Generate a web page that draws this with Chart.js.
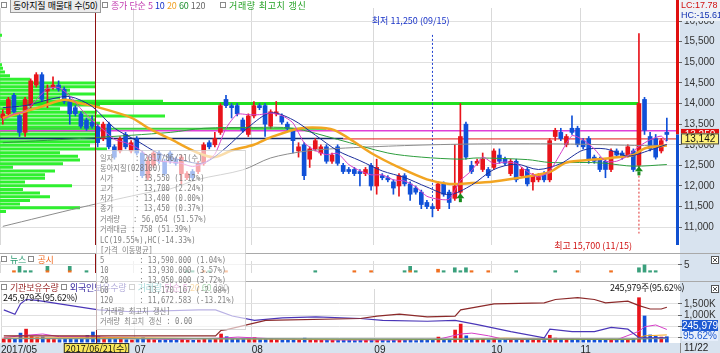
<!DOCTYPE html>
<html lang="ko">
<head>
<meta charset="utf-8">
<title>동아지질 일봉</title>
<script src="https://cdn.jsdelivr.net/npm/chart.js@4.4.1/dist/chart.umd.min.js"></script>
<style>
  html, body { margin: 0; padding: 0; background: #fff; }
  body { width: 720px; height: 353px; position: relative; overflow: hidden; font-family: "Liberation Sans", Arial, sans-serif; }
  canvas { position: absolute; left: 0; }
  .lg { position: absolute; font: 9px "Noto Sans CJK KR", sans-serif; line-height: 12px; white-space: nowrap; letter-spacing: -0.2px; }
  .bx { display: inline-block; width: 4px; height: 4px; border: 1px solid #8a8a8a; background: #fff; margin-right: 3px; vertical-align: 1px; }
  .sel { border: 1px solid #9a9a9a; background: #ececec; padding: 0 2px; }
  #info { position: absolute; left: 96px; top: 150px; width: 148px; height: 178px; background: rgba(255,255,255,0.62); border: 1px solid rgba(190,190,190,0.6); }
  #info div { position: absolute; left: 3px; font: 8.5px "DejaVu Sans Mono", "Noto Sans CJK KR", monospace; color: rgba(115,115,115,0.9); white-space: pre; transform: scaleX(0.85); transform-origin: left; line-height: 10px; }
</style>
</head>
<body>
<canvas id="price" width="720" height="253" style="top:0"></canvas>
<canvas id="news" width="720" height="28" style="top:253px"></canvas>
<canvas id="vol" width="720" height="72" style="top:281px"></canvas>

<div class="lg" style="left:1px;top:0px"><span class="bx"></span><span class="sel">동아지질 매물대 수(50)</span></div>
<div class="lg" style="left:102px;top:0px"><span class="bx"></span><span style="color:#c23cb0">종가 단순 5 </span><span style="color:#1530c8">10 </span><span style="color:#f0a020">20 </span><span style="color:#1f8f2f">60 </span><span style="color:#666">120</span></div>
<div class="lg" style="left:220px;top:0px"><span class="bx"></span><span style="color:#22a022;letter-spacing:0.6px">거래량 최고치 갱신</span></div>

<div class="lg" style="left:1px;top:254px"><span class="bx"></span><span style="color:#2a9a70">뉴스 </span><span class="bx"></span><span style="color:#f06a20">공시</span></div>
<div class="lg" style="left:1px;top:282px"><span class="bx"></span><span style="color:#9a2a2a">기관보유수량 </span><span class="bx"></span><span style="color:#3a2aa0">외국인보유수량 </span><span class="bx"></span><span style="color:#20a0a0">거래량 </span><span style="color:#c23cb0">단순 5 </span><span style="color:#f0a020">20 </span><span style="color:#1f8f2f">60 </span><span style="color:#666">120</span></div>
<div class="lg" style="left:3px;top:292px;color:#111">245,979주(95.62%)</div>
<div class="lg" style="left:610px;top:282px;color:#111">245,979주(95.62%)</div>

<div id="info">
  <div style="top:2px">일자     : 2017/06/21(수)</div>
  <div style="top:12px">동아지질(028100)</div>
  <div style="top:22px">시가     : 13,550 (1.12%)</div>
  <div style="top:32px">고가     : 13,700 (2.24%)</div>
  <div style="top:42px">저가     : 13,400 (0.00%)</div>
  <div style="top:52px">종가     : 13,450 (0.37%)</div>
  <div style="top:63px">거래량   : 56,054 (51.57%)</div>
  <div style="top:73px">거래대금 : 758 (51.39%)</div>
  <div style="top:84px">LC(19.55%),HC(-14.33%)</div>
  <div style="top:94px">[가격 이동평균]</div>
  <div style="top:104px">5        : 13,590.000 (1.04%)</div>
  <div style="top:114px">10       : 13,930.000 (3.57%)</div>
  <div style="top:124px">20       : 13,950.000 (3.72%)</div>
  <div style="top:134px">60       : 13,170.167 (-2.08%)</div>
  <div style="top:144px">120      : 11,672.583 (-13.21%)</div>
  <div style="top:155px">[거래량 최고치 갱신]</div>
  <div style="top:165px">거래량 최고치 갱신 : 0.00</div>
</div>

<script>
// ---- daily candles, 2017/05/29 .. 2017/11/22 (120 trading days)
const candleOpen = [
  13650, 13750, 14200, 13700, 13300, 13950, 14450, 14700, 14300, 14400,
  14450, 14350, 14100, 13900, 13750, 13600, 13550, 13450, 13150, 13500,
  12950, 12850, 13250, 12850, 13150, 12800, 12200, 12500, 12800, 12600,
  12800, 12650, 12300, 12200, 12350, 12350, 12550, 13050, 13000, 13300,
  14100, 13950, 13950, 13600, 13250, 13700, 13950, 13950, 13450, 13750,
  13700, 13500, 13350, 12850, 13000, 12650, 12900, 12800, 12950, 12600,
  12950, 12500, 12400, 12400, 12350, 12300, 12500, 12000, 12250, 12200,
  12100, 12000, 12250, 12050, 11950, 11850, 11600, 11500, 11450, 12050,
  11850, 11700, 11850, 13500, 12500, 12550, 12400, 12400, 12450, 12750,
  12650, 12300, 12600, 12250, 12400, 12100, 12150, 12300, 12150, 13200,
  13300, 13000, 13400, 13400, 13100, 13150, 12700, 12650, 12600, 12400,
  12850, 12800, 12750, 12850, 12500, 14100, 13200, 13150, 12850, 13300
];
const candleHigh = [
  13850, 14150, 14250, 13750, 14150, 14600, 14750, 14750, 14450, 14650,
  14550, 14400, 14150, 13950, 13800, 13650, 13700, 13500, 13550, 13550,
  13000, 13200, 13300, 13100, 13200, 12850, 12700, 12850, 12850, 12650,
  12850, 12700, 12750, 12350, 12400, 12600, 13050, 13100, 13300, 14000,
  14200, 14000, 14000, 13650, 13750, 14050, 14000, 14000, 13850, 14050,
  13750, 13550, 13400, 13050, 13050, 12950, 13150, 13000, 13000, 12800,
  13000, 12550, 12450, 12450, 12400, 12450, 12550, 12650, 12300, 12250,
  12150, 12300, 12300, 12100, 12000, 11900, 11650, 11550, 12100, 12100,
  11900, 13000, 14000, 13550, 12600, 12650, 12800, 12450, 12900, 12900,
  12700, 12650, 12650, 12450, 12450, 12300, 12300, 12350, 13150, 13400,
  13400, 13250, 13700, 13450, 13150, 13200, 12750, 12700, 12650, 12900,
  12900, 12850, 13000, 12900, 15700, 14150, 13300, 13250, 13150, 13650
];
const candleLow = [
  13500, 13700, 13750, 13200, 13200, 13900, 14400, 14050, 13900, 14350,
  14300, 14000, 13500, 13700, 13400, 13350, 13400, 12950, 13100, 12900,
  12650, 12800, 12900, 12800, 12750, 12200, 12150, 12450, 12550, 12250,
  12550, 12500, 12050, 12150, 12150, 12300, 12500, 12900, 12950, 13250,
  13900, 13650, 13700, 13300, 13200, 13650, 13850, 13200, 13400, 13700,
  13500, 13350, 12800, 12700, 12150, 12450, 12850, 12750, 12550, 12550,
  12500, 12300, 12300, 12250, 12000, 12250, 11900, 11800, 12150, 12100,
  11800, 11750, 12000, 11650, 11800, 11450, 11450, 11250, 11400, 11750,
  11450, 11650, 11800, 12650, 12300, 12500, 12350, 12200, 12400, 12550,
  12500, 12250, 12100, 12200, 12000, 11900, 12100, 12100, 12100, 13100,
  13100, 12950, 13250, 12950, 12900, 12550, 12550, 12350, 12200, 12350,
  12700, 12650, 12700, 12350, 12450, 13250, 12850, 12650, 12800, 13100
];
const candleClose = [
  13750, 14100, 13800, 13300, 14100, 14550, 14700, 14100, 14350, 14450,
  14350, 14050, 13750, 13750, 13450, 13400, 13450, 13050, 13500, 12950,
  12700, 13150, 12950, 13050, 12800, 12250, 12600, 12800, 12600, 12300,
  12600, 12550, 12700, 12300, 12200, 12550, 13000, 12950, 13150, 13950,
  13950, 13900, 13750, 13350, 13700, 13950, 13900, 13500, 13800, 13800,
  13550, 13400, 13100, 12950, 12250, 12900, 13100, 12950, 12600, 12750,
  12550, 12350, 12350, 12300, 12300, 12400, 12000, 12450, 12200, 12150,
  11950, 12250, 12050, 11800, 11850, 11550, 11500, 11450, 12050, 11800,
  11600, 12000, 13200, 12700, 12350, 12600, 12650, 12250, 12850, 12600,
  12550, 12600, 12150, 12400, 12050, 12250, 12250, 12150, 13100, 13350,
  13150, 13200, 13300, 13000, 12950, 12650, 12600, 12400, 12400, 12850,
  12750, 12700, 12950, 12400, 14000, 13350, 12900, 12700, 13100, 13250
];
const volume = [
  18000, 22000, 20000, 50000, 72000, 30000, 25000, 28000, 16000, 15000,
  14000, 16000, 20000, 15000, 22000, 37000, 56054, 30000, 22000, 25000,
  18000, 16000, 14000, 12000, 15000, 24000, 16000, 14000, 12000, 15000,
  13000, 12000, 16000, 11000, 10000, 12000, 18000, 14000, 20000, 45000,
  30000, 18000, 16000, 20000, 22000, 25000, 15000, 20000, 18000, 14000,
  13000, 12000, 16000, 12000, 22000, 16000, 14000, 12000, 13000, 11000,
  14000, 12000, 10000, 9000, 11000, 10000, 16000, 14000, 10000, 9000,
  12000, 14000, 10000, 13000, 9000, 16000, 12000, 15000, 28000, 14000,
  15000, 67000, 100000, 35000, 18000, 14000, 16000, 12000, 15000, 11000,
  10000, 12000, 14000, 10000, 12000, 11000, 10000, 9000, 38000, 22000,
  16000, 14000, 18000, 16000, 12000, 15000, 10000, 11000, 12000, 16000,
  11000, 10000, 14000, 20000, 245979, 145000, 40000, 32000, 28000, 30000
];

// ---- price moving averages (day index, price)
const ma5Days  = [0, 2, 4, 6, 8, 10, 12, 14, 16, 18, 20, 22, 24, 26, 28, 30, 32, 34, 36, 38, 40, 42, 44, 46, 48, 50, 52, 54, 56, 58, 60, 62, 64, 66, 68, 70, 72, 74, 76, 78, 80, 82, 84, 86, 88, 90, 92, 94, 96, 98, 100, 102, 104, 106, 108, 110, 112, 114, 116, 118, 119];
const ma5      = [13600, 13750, 13810, 14090, 14360, 14390, 14190, 13870, 13590, 13370, 13130, 13050, 12930, 12730, 12610, 12580, 12550, 12470, 12550, 12770, 13400, 13740, 13730, 13730, 13770, 13710, 13530, 13050, 12860, 12760, 12790, 12520, 12370, 12270, 12270, 12150, 12120, 11980, 11750, 11680, 11680, 12130, 12370, 12700, 12540, 12580, 12550, 12350, 12220, 12360, 12800, 13220, 13120, 12900, 12600, 12600, 12730, 12960, 13120, 13210, 13060];
const ma10Days = [0, 4, 7, 9, 12, 16, 20, 24, 28, 32, 36, 40, 44, 48, 52, 56, 60, 64, 68, 72, 76, 80, 84, 88, 92, 96, 100, 104, 108, 112, 116, 119];
const ma10     = [13900, 13950, 14050, 14120, 14170, 13930, 13405, 13100, 12785, 12625, 12560, 12930, 13425, 13775, 13605, 13235, 12855, 12615, 12365, 12205, 11975, 11790, 12020, 12400, 12530, 12400, 12545, 12870, 12900, 12725, 12870, 13010];
const ma20Days = [0, 7, 11, 14, 16, 23, 26, 30, 35, 38, 41, 45, 48, 53, 57, 60, 66, 71, 76, 80, 84, 88, 94, 98, 101, 106, 109, 113, 115, 119];
const ma20     = [13650, 13930, 14090, 14000, 13950, 13660, 13410, 13140, 12800, 12700, 12860, 13000, 13180, 13390, 13410, 13320, 12800, 12450, 12160, 12050, 12070, 12110, 12230, 12340, 12570, 12640, 12680, 12750, 12910, 12980];
const ma60Days = [0, 16, 30, 36, 45, 52, 60, 69, 75, 82, 85, 94, 98, 105, 108, 113, 119];
const ma60     = [13050, 13170, 13300, 13400, 13420, 13400, 13130, 12800, 12700, 12650, 12680, 12640, 12570, 12570, 12550, 12480, 12520];
const ma120Days = [0, 14, 26, 30, 35, 43, 48, 54, 60, 72, 85, 100, 115, 119];
const ma120     = [11020, 11480, 11840, 11930, 12160, 12390, 12680, 12840, 12910, 12980, 13020, 13020, 12980, 12980];

// ---- price levels and markers
const recordVolClose = 14000;   // 거래량 최고치 갱신 (11/15)
const markLevel = 13340;
const lastPrice = 13250;
const refPrice = 13142;
const lowPrice = 11250, lowDay = 77;
const highPrice = 15700, highDay = 114;
const cursorDay = 16;           // 2017/06/21
const signalDays = [82, 114];

// ---- 매물대 (50 price bins from 11,250 to 15,700), relative volume per bin
const profileVolume = [
  0, 6, 80, 20, 30, 50, 40, 23, 72, 25,
  45, 45, 55, 13, 63, 80, 78, 60, 107, 90,
  95, 95, 95, 100, 95, 100, 95, 165, 97, 60,
  100, 163, 60, 95, 70, 95, 95, 30, 10, 5,
  3, 2, 0, 0, 0, 0, 0, 0, 0, 2
];

// ---- news / disclosures
const newsDays   = [3, 4, 5, 8, 12, 15, 33, 34, 37, 56, 72, 73, 74, 79, 81, 82, 83, 92, 99, 114, 115, 116, 117];
const newsCount  = [4, 1, 1, 3, 3, 1, 1, 1, 1, 1, 1, 3, 1, 1, 3, 1, 3, 1, 1, 3, 5, 1, 1];
const noticeDays  = [2, 8, 12, 36, 40, 63, 66, 73, 78, 84, 87, 103, 109];
const noticeCount = [1, 1, 1, 1, 1, 1, 1, 1, 2, 1, 1, 1, 1];

// ---- holdings (shares)
const instDays = [0, 38, 39, 40, 47, 64, 67, 71, 76, 81, 82, 88, 97, 99, 103, 106, 108, 112, 114, 116, 118, 119];
const instHold = [80000, 80000, 330000, 360000, 770000, 850000, 960000, 1040000, 920000, 960000, 1230000, 1500000, 1540000, 1690000, 1770000, 1690000, 1540000, 1620000, 1420000, 1270000, 1270000, 1350000];
const foreignDays = [0, 2, 3, 4, 6, 10, 17, 23, 35, 38, 41, 45, 50, 56, 64, 68, 76, 81, 85, 91, 97, 98, 102, 106, 109, 112, 114, 119];
const foreignHold = [1230000, 1040000, 1500000, 1690000, 1650000, 1500000, 1230000, 1150000, 1230000, 1230000, 960000, 770000, 880000, 920000, 850000, 770000, 730000, 770000, 580000, 270000, 0, 380000, 270000, 270000, 460000, 380000, 0, 0];

// ---- volume moving averages
const vma5Days = [0, 4, 7, 10, 16, 20, 30, 39, 42, 50, 60, 70, 78, 82, 84, 87, 90, 98, 100, 110, 114, 115, 117, 119];
const vma5     = [25000, 38000, 45000, 30000, 30000, 25000, 14000, 22000, 28000, 16000, 12000, 12000, 16000, 45000, 50000, 35000, 14000, 16000, 20000, 13000, 60000, 85000, 95000, 70000];
const vma20Days = [0, 20, 40, 60, 80, 90, 100, 113, 115, 119];
const vma20     = [22000, 25000, 18000, 14000, 14000, 22000, 16000, 14000, 35000, 40000];
const vma60Days = [0, 40, 80, 113, 119];
const vma60     = [20000, 19000, 16000, 17000, 22000];
const vma120Days = [0, 60, 119];
const vma120     = [19000, 18000, 19000];

// ---- axis text
const monthStarts = [0, 24, 45, 67, 88, 104];
const monthLabels = ['2017/05', '07', '08', '09', '10', '11'];
const priceTicks = [11000, 11500, 12000, 12500, 13000, 13500, 14000, 14500, 15000, 15500, 16000];

// ---------------------------------------------------------------
const RED = '#e8141b', BLUE = '#1050d8', AXIS_BG = '#d8e3ef';
const FONT = { family: '"Liberation Sans", Arial, sans-serif', size: 10 };
const KFONT = '9px "Noto Sans CJK KR", sans-serif';
const X_MIN = -0.5, X_MAX = 121;
const candleColor = (i) => candleClose[i] >= candleOpen[i] ? RED : BLUE;
const pts = (days, vals) => days.map((d, i) => ({ x: d, y: vals[i] }));
const hline = (y, from, to) => [{ x: from, y }, { x: to, y }];

function xAxis(showLabels) {
  return {
    type: 'linear', min: X_MIN, max: X_MAX, offset: false,
    afterBuildTicks: (s) => { s.ticks = monthStarts.map((d) => ({ value: d - 0.5 })); },
    grid: { color: '#d9d9d9', drawTicks: false, offset: false },
    border: { display: false },
    ticks: showLabels
      ? { display: true, align: 'start', padding: 1, maxRotation: 0, autoSkip: false, font: FONT, color: '#222',
          callback: (v, i) => monthLabels[i] }
      : { display: false },
    afterFit: (s) => { s.height = showLabels ? 10 : 0; }
  };
}

function rightAxis(extra) {
  return Object.assign({
    position: 'right',
    grid: { color: '#e0e0e0', tickLength: 4, tickColor: '#666' },
    border: { display: false },
    ticks: { font: FONT, color: '#333', padding: 2 },
    afterFit: (s) => { s.width = 42; }
  }, extra);
}

const baseOptions = {
  responsive: false, animation: false, events: [],
  layout: { padding: 0 },
  plugins: { legend: { display: false }, tooltip: { enabled: false } }
};

function axisBg(chart, withBottom) {
  const { ctx, chartArea: a, width, height } = chart;
  ctx.save();
  ctx.fillStyle = AXIS_BG;
  ctx.fillRect(a.right + 2, 0, width - a.right - 2, height);
  if (withBottom) ctx.fillRect(0, a.bottom, width, height - a.bottom);
  ctx.restore();
}

function cursorLine(chart) {
  const { ctx, chartArea: a, scales: { x } } = chart;
  const px = Math.round(x.getPixelForValue(cursorDay + 0.5)) + 0.5;
  ctx.save();
  ctx.strokeStyle = '#8f1010';
  ctx.lineWidth = 1;
  ctx.beginPath(); ctx.moveTo(px, 0); ctx.lineTo(px, a.bottom); ctx.stroke();
  ctx.restore();
  return px;
}

function closeIcon(ctx, x, y) {
  ctx.fillStyle = '#fff'; ctx.fillRect(x, y, 8, 8);
  ctx.strokeStyle = '#555'; ctx.lineWidth = 1;
  ctx.strokeRect(x + 0.5, y + 0.5, 7, 7);
  ctx.beginPath(); ctx.moveTo(x + 2, y + 2); ctx.lineTo(x + 6, y + 6); ctx.moveTo(x + 6, y + 2); ctx.lineTo(x + 2, y + 6); ctx.stroke();
}

function priceBox(ctx, left, yc, text, bg, fg, border) {
  ctx.fillStyle = bg; ctx.fillRect(left, yc - 5.5, 38, 11);
  if (border) { ctx.strokeStyle = border; ctx.lineWidth = 1; ctx.strokeRect(left + 0.5, yc - 5, 37, 10); }
  ctx.fillStyle = fg; ctx.font = '10px "Liberation Sans", Arial, sans-serif';
  ctx.textAlign = 'center'; ctx.textBaseline = 'middle';
  ctx.fillText(text, left + 19, yc + 0.5);
}

// ---- price panel
const binSize = (highPrice - lowPrice) / profileVolume.length;
const profilePts = [];
profileVolume.forEach((v, k) => {
  if (!v) return;
  const p = lowPrice + (k + 0.5) * binSize;
  profilePts.push({ x: X_MIN, y: p }, { x: X_MIN + v / 5.58, y: p }, { x: null, y: null });
});

const pricePlugin = {
  id: 'priceDecor',
  beforeDraw: (chart) => axisBg(chart, false),
  afterDraw(chart) {
    const { ctx, chartArea: a, scales: { x, y } } = chart;
    cursorLine(chart);
    ctx.save();
    // LC / HC side bar
    const yl = y.getPixelForValue(lastPrice);
    ctx.fillStyle = '#e01010'; ctx.fillRect(a.right - 2, 0, 3, yl);
    ctx.fillStyle = '#1050d0'; ctx.fillRect(a.right - 2, yl, 3, a.bottom - yl);
    // signal arrows
    signalDays.forEach((d) => {
      const px = x.getPixelForValue(d), py = y.getPixelForValue(candleOpen[d]) + 1;
      ctx.fillStyle = '#178a1c';
      ctx.beginPath(); ctx.moveTo(px, py); ctx.lineTo(px - 4, py + 5); ctx.lineTo(px + 4, py + 5); ctx.closePath(); ctx.fill();
      ctx.fillRect(px - 1.5, py + 5, 3, 4);
    });
    // low / high labels
    ctx.font = KFONT; ctx.textBaseline = 'middle';
    ctx.fillStyle = '#1a34c8'; ctx.textAlign = 'right';
    ctx.fillText('최저 11,250 (09/15)', x.getPixelForValue(lowDay) + 17, 21);
    ctx.fillStyle = '#d01414';
    ctx.fillText('최고 15,700 (11/15)', x.getPixelForValue(highDay) - 7, 246);
    // axis price boxes
    priceBox(ctx, a.right + 3, yl, lastPrice.toLocaleString('en-US'), '#e01010', '#fff');
    priceBox(ctx, a.right + 3, y.getPixelForValue(refPrice), refPrice.toLocaleString('en-US'), '#fff27a', '#111', '#444');
    // LC / HC box
    ctx.fillStyle = '#eef2f7'; ctx.fillRect(a.right + 2, 0, 40, 21);
    ctx.font = '9px "Liberation Sans", Arial, sans-serif'; ctx.textAlign = 'left';
    ctx.fillStyle = '#d01010'; ctx.fillText('LC:17.78', a.right + 3, 6);
    ctx.fillStyle = '#1030b0'; ctx.fillText('HC:-15.61', a.right + 3, 15.5);
    ctx.restore();
  }
};

new Chart(document.getElementById('price'), {
  type: 'bar',
  data: {
    datasets: [
      { type: 'line', data: profilePts, borderColor: '#2ff02f', borderWidth: 3, pointRadius: 0, spanGaps: false, order: 20 },
      { type: 'line', data: hline(recordVolClose, X_MIN, highDay), borderColor: '#1fe01f', borderWidth: 3, pointRadius: 0, order: 12 },
      { type: 'line', data: hline(13390, X_MIN, 58), borderColor: '#3fd03f', borderWidth: 2, pointRadius: 0, order: 12 },
      { type: 'line', data: hline(markLevel, X_MIN, X_MAX), borderColor: '#e040d8', borderWidth: 1.5, pointRadius: 0, order: 11 },
      { type: 'line', data: hline(refPrice + 10, X_MIN, 61), borderColor: '#142a6a', borderWidth: 1.5, pointRadius: 0, order: 11 },
      { type: 'line', data: hline(refPrice, 61, X_MAX), borderColor: '#e01818', borderWidth: 1, pointRadius: 0, order: 11 },
      { type: 'line', data: [{ x: lowDay, y: lowPrice }, { x: lowDay, y: highPrice }], borderColor: '#2040d0', borderWidth: 1, borderDash: [2, 2], pointRadius: 0, order: 11 },
      { type: 'line', data: [{ x: highDay, y: 12250 }, { x: highDay, y: 10850 }], borderColor: '#e03030', borderWidth: 1, borderDash: [2, 2], pointRadius: 0, order: 11 },
      { type: 'bar', data: candleOpen.map((o, i) => ({ x: i, y: [candleLow[i], candleHigh[i]] })),
        backgroundColor: (c) => candleColor(c.dataIndex), barThickness: 1, grouped: false, order: 9 },
      { type: 'bar', data: candleOpen.map((o, i) => ({ x: i, y: [o, candleClose[i]] })),
        backgroundColor: (c) => candleColor(c.dataIndex), barThickness: 4, minBarLength: 1, grouped: false, order: 8 },
      { type: 'line', data: pts(ma120Days, ma120), borderColor: '#8c8c8c', borderWidth: 1, pointRadius: 0, tension: 0.3, order: 5 },
      { type: 'line', data: pts(ma60Days, ma60), borderColor: '#2e9e3e', borderWidth: 1, pointRadius: 0, tension: 0.3, order: 4 },
      { type: 'line', data: pts(ma20Days, ma20), borderColor: '#f2a522', borderWidth: 2.5, pointRadius: 0, tension: 0.3, order: 3 },
      { type: 'line', data: pts(ma10Days, ma10), borderColor: '#1c2f9c', borderWidth: 1, pointRadius: 0, tension: 0.3, order: 2 },
      { type: 'line', data: pts(ma5Days, ma5), borderColor: '#d63ec8', borderWidth: 1, pointRadius: 0, tension: 0.2, order: 1 }
    ]
  },
  options: Object.assign({}, baseOptions, {
    scales: {
      x: xAxis(false),
      y: rightAxis({
        min: 10568, max: 16318,
        afterBuildTicks: (s) => { s.ticks = priceTicks.map((v) => ({ value: v })); },
        ticks: { font: FONT, color: '#333', padding: 2, callback: (v) => v.toLocaleString('en-US') }
      })
    }
  }),
  plugins: [pricePlugin]
});

// ---- news panel
const panelTop = (chart) => {
  const { ctx, width } = chart;
  ctx.save(); ctx.fillStyle = '#a9a9a9'; ctx.fillRect(0, 0, width, 1); ctx.restore();
};

new Chart(document.getElementById('news'), {
  type: 'bar',
  data: {
    datasets: [
      { data: pts(noticeDays, noticeCount), backgroundColor: '#f07020', barThickness: 3, grouped: false, stack: 's' },
      { data: pts(newsDays, newsCount), backgroundColor: '#3aa07c', barThickness: 3, grouped: false, stack: 's' }
    ]
  },
  options: Object.assign({}, baseOptions, {
    scales: {
      x: xAxis(false),
      y: rightAxis({
        stacked: true, min: -0.59, max: 7.65,
        afterBuildTicks: (s) => { s.ticks = [{ value: 5 }]; }
      })
    }
  }),
  plugins: [{
    id: 'newsDecor',
    beforeDraw: (chart) => axisBg(chart, false),
    afterDraw(chart) { cursorLine(chart); panelTop(chart); closeIcon(chart.ctx, 711, 3); }
  }]
});

// ---- holdings / volume panel
new Chart(document.getElementById('vol'), {
  type: 'bar',
  data: {
    datasets: [
      { type: 'line', yAxisID: 'yh', data: pts(instDays, instHold), borderColor: '#8c2a2a', borderWidth: 1.2, pointRadius: 0, order: 1 },
      { type: 'line', yAxisID: 'yh', data: pts(foreignDays, foreignHold), borderColor: '#4a36b8', borderWidth: 1.2, pointRadius: 0, order: 1 },
      { type: 'line', yAxisID: 'yv', data: pts(vma120Days, vma120), borderColor: '#9a9a9a', borderWidth: 1, pointRadius: 0, order: 2 },
      { type: 'line', yAxisID: 'yv', data: pts(vma60Days, vma60), borderColor: '#2e9e3e', borderWidth: 1, pointRadius: 0, order: 2 },
      { type: 'line', yAxisID: 'yv', data: pts(vma20Days, vma20), borderColor: '#f2a522', borderWidth: 1, pointRadius: 0, order: 2 },
      { type: 'line', yAxisID: 'yv', data: pts(vma5Days, vma5), borderColor: '#d63ec8', borderWidth: 1, pointRadius: 0, order: 2 },
      { type: 'bar', yAxisID: 'yv', data: volume.map((v, i) => ({ x: i, y: v })),
        backgroundColor: (c) => candleColor(c.dataIndex), barThickness: 3, grouped: false, order: 3 }
    ]
  },
  options: Object.assign({}, baseOptions, {
    scales: {
      x: xAxis(true),
      yh: rightAxis({
        min: -231000, max: 2154000,
        afterBuildTicks: (s) => { s.ticks = [0, 500000, 1000000, 1500000].map((v) => ({ value: v })); },
        ticks: { font: FONT, color: '#333', padding: 2, callback: (v) => (v / 1000).toLocaleString('en-US') + 'K' }
      }),
      yv: { display: false, min: -4800, max: 294200 }
    }
  }),
  plugins: [{
    id: 'volDecor',
    beforeDraw: (chart) => axisBg(chart, true),
    afterDraw(chart) {
      const { ctx, chartArea: a } = chart;
      const px = cursorLine(chart);
      panelTop(chart);
      closeIcon(ctx, 711, 4);
      ctx.save();
      // current volume box
      ctx.fillStyle = '#1e5ad2'; ctx.fillRect(a.right + 4, 39, 36, 11);
      ctx.fillStyle = '#e6eefa'; ctx.fillRect(a.right + 4, 50, 36, 10);
      ctx.font = '10px "Liberation Sans", Arial, sans-serif'; ctx.textAlign = 'center'; ctx.textBaseline = 'middle';
      ctx.fillStyle = '#fff'; ctx.fillText('245,979', a.right + 22, 45);
      ctx.fillStyle = '#1e5ad2'; ctx.fillText('95.62%', a.right + 22, 55.5);
      // cursor date label
      ctx.font = KFONT;
      const label = '2017/06/21(수)';
      const w = ctx.measureText(label).width + 4;
      ctx.fillStyle = '#f8e65a'; ctx.fillRect(px - w / 2, a.bottom, w, 10);
      ctx.strokeStyle = '#333'; ctx.strokeRect(px - w / 2 + 0.5, a.bottom + 0.5, w - 1, 9);
      ctx.fillStyle = '#111'; ctx.fillText(label, px, a.bottom + 5.5);
      // last date
      ctx.font = '10px "Liberation Sans", Arial, sans-serif'; ctx.textAlign = 'left';
      ctx.fillStyle = '#222'; ctx.fillText('11/22', a.right + 6, a.bottom + 5.5);
      ctx.fillStyle = '#888'; ctx.fillRect(a.right + 2, a.bottom, 1, 10);
      ctx.restore();
    }
  }]
});
</script>
</body>
</html>
